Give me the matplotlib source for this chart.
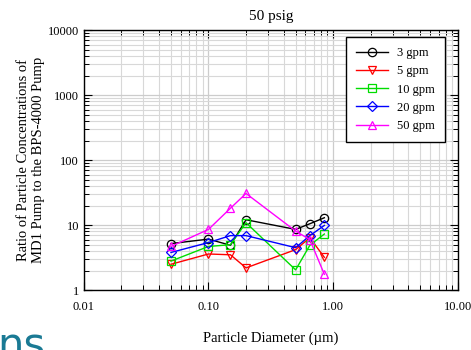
import matplotlib
matplotlib.use("Agg")
import matplotlib.pyplot as plt
from matplotlib.ticker import LogLocator, FixedLocator, NullFormatter, FixedFormatter

plt.rcParams['font.family'] = ['Liberation Serif', 'DejaVu Serif']

diam = [0.05, 0.10, 0.15, 0.20, 0.50, 0.65, 0.85]
g3 = [5.2, 6.1, 4.9, 12.1, 8.6, 10.5, 13.0]
g5 = [2.5, 3.6, 3.5, 2.2, 4.2, 6.4, 3.2]
g10 = [2.8, 4.7, 5.0, 10.9, 2.05, 4.9, 7.3]
g20 = [3.8, 5.4, 6.9, 6.9, 4.5, 6.9, 9.9]
g50 = [4.7, 8.6, 18.2, 30.7, 8.1, 6.0, 1.75]

series = [
    ("3 gpm", g3, "black", "o"),
    ("5 gpm", g5, "red", "v"),
    ("10 gpm", g10, "#00dd00", "s"),
    ("20 gpm", g20, "blue", "D"),
    ("50 gpm", g50, "magenta", "^"),
]

xticks = [0.01, 0.1, 1, 10]
xticklabels = ["0.01", "0.10", "1.00", "10.00"]
yticks = [1, 10, 100, 1000, 10000]
yticklabels = ["1", "10", "100", "1000", "10000"]

fig = plt.figure(figsize=(4.71, 3.5), dpi=100)
ax = fig.add_axes([0.178, 0.171, 0.794, 0.743])

for label, vals, col, mk in series:
    ms = 6.0 if mk != "D" else 5.2
    ax.plot(diam, vals, color=col, marker=mk, markerfacecolor="none",
            markeredgecolor=col, markersize=ms, linewidth=1.0, label=label,
            markeredgewidth=0.9)

ax.set_xscale("log")
ax.set_yscale("log")
ax.set_xlim(0.01, 10)
ax.set_ylim(1, 10000)

ax.xaxis.set_major_locator(FixedLocator(xticks))
ax.xaxis.set_major_formatter(FixedFormatter(xticklabels))
ax.yaxis.set_major_locator(FixedLocator(yticks))
ax.yaxis.set_major_formatter(FixedFormatter(yticklabels))
ax.xaxis.set_minor_locator(LogLocator(base=10, subs=range(2, 10)))
ax.yaxis.set_minor_locator(LogLocator(base=10, subs=range(2, 10)))
ax.xaxis.set_minor_formatter(NullFormatter())
ax.yaxis.set_minor_formatter(NullFormatter())

ax.grid(True, which="major", color="#cccccc", linewidth=0.9)
ax.grid(True, which="minor", color="#d8d8d8", linewidth=0.8)
ax.set_axisbelow(True)

ax.tick_params(which="both", direction="in", top=True, right=True, labelsize=9)
ax.tick_params(which="major", length=6, width=0.8)
ax.tick_params(which="minor", length=3.5, width=0.7)
ax.tick_params(axis="x", pad=8)
for s in ax.spines.values():
    s.set_linewidth(1.0)

ax.set_title("50 psig", fontsize=11, pad=7)
ax.set_xlabel("Particle Diameter (\u00b5m)", fontsize=10.5, labelpad=13)
ax.set_ylabel("Ratio of Particle Concentrations of\nMD1 Pump to the BPS-4000 Pump",
              fontsize=10.5, labelpad=2)

leg = ax.legend(loc="upper right", bbox_to_anchor=(0.965, 0.973), borderaxespad=0,
                fontsize=9, frameon=True, fancybox=False, edgecolor="black",
                framealpha=1, handlelength=2.6, borderpad=0.8, labelspacing=0.5,
                handletextpad=0.7)
leg.get_frame().set_linewidth(1.0)

fig.text(-0.005, -0.05, "ns", color="#1a7a94", fontsize=30, family="DejaVu Sans",
         ha="left", va="bottom")

fig.savefig("out.png", dpi=100)
